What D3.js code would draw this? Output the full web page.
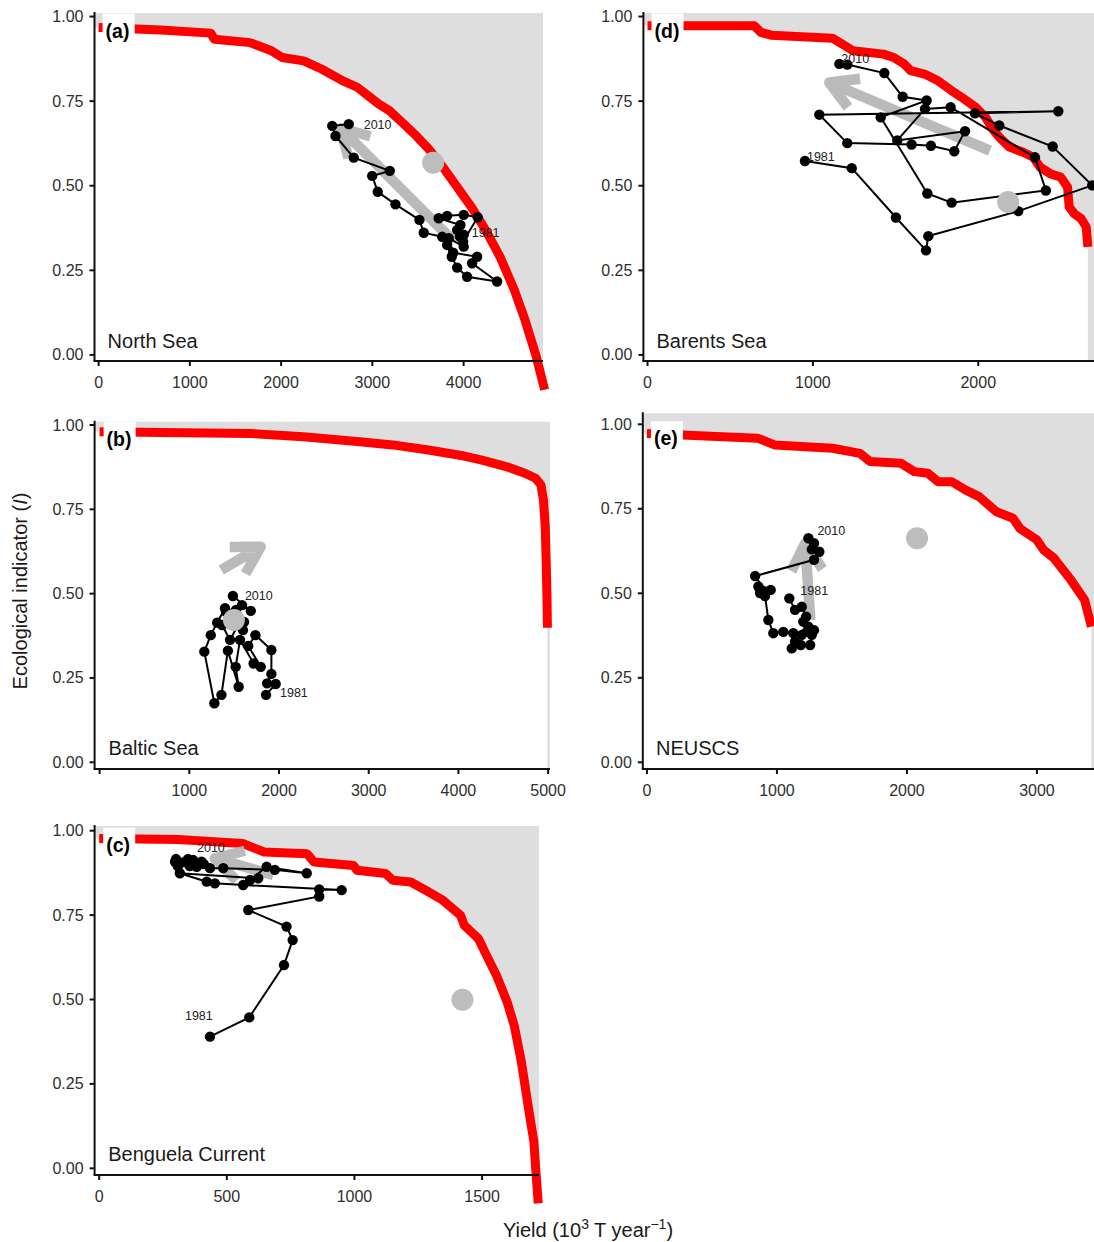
<!DOCTYPE html>
<html>
<head>
<meta charset="utf-8">
<script src="https://cdn.jsdelivr.net/npm/d3@7"></script>
<style>
  body { margin: 0; background: #fff; }
  svg { display: block; font-family: "Liberation Sans", Arial, sans-serif; }
</style>
</head>
<body>
<div id="app"></div>
<script>
// ---------- data (yield in 10^3 T/year, indicator I) ----------
const yearLabels = ['1981', '2010'];
const indicatorTicks = [0, 0.25, 0.5, 0.75, 1];

// North Sea (a)
const northSeaYield = [4001, 3960, 3995, 4154, 4001, 3819, 3727, 3965, 3929, 4001, 3837, 3885, 4148, 4093, 4367, 4038, 3929, 3870, 3819, 3765, 3563, 3516, 3253, 3059, 2998, 3191, 2796, 2596, 2560, 2741];
const northSeaIndicator = [0.355, 0.350, 0.335, 0.407, 0.414, 0.411, 0.404, 0.384, 0.369, 0.320, 0.345, 0.302, 0.290, 0.271, 0.217, 0.231, 0.258, 0.290, 0.325, 0.349, 0.361, 0.399, 0.445, 0.482, 0.529, 0.544, 0.583, 0.647, 0.677, 0.682];
const northSeaFrontierYield = [0, 681, 1229, 1268, 1659, 1894, 2012, 2247, 2442, 2677, 2834, 3068, 3186, 3342, 3460, 3616, 3773, 3930, 4086, 4243, 4399, 4556, 4673, 4791, 4888];
const northSeaFrontierIndicator = [0.968, 0.960, 0.951, 0.933, 0.923, 0.899, 0.879, 0.869, 0.845, 0.810, 0.791, 0.742, 0.722, 0.683, 0.653, 0.609, 0.555, 0.496, 0.437, 0.368, 0.290, 0.192, 0.103, 0.000, -0.103];
const northSeaArrow = [3892, 0.335, 2651, 0.670];
const northSeaReference = [3666, 0.568];
const northSeaTicks = [0, 1000, 2000, 3000, 4000];

// Barents Sea (d)
const barentsYield = [952, 1235, 1502, 1684, 1698, 2242, 2689, 2450, 2127, 1980, 2484, 1039, 1208, 1597, 1714, 1855, 1920, 1510, 1678, 1833, 2343, 2409, 1839, 1692, 1410, 1688, 1543, 1432, 1208, 1160];
const barentsIndicator = [0.573, 0.552, 0.406, 0.309, 0.351, 0.425, 0.501, 0.616, 0.678, 0.714, 0.720, 0.710, 0.626, 0.622, 0.618, 0.602, 0.661, 0.634, 0.727, 0.732, 0.584, 0.486, 0.450, 0.477, 0.702, 0.752, 0.763, 0.833, 0.858, 0.860];
const barentsFrontierYield = [0, 645, 686, 748, 1118, 1180, 1242, 1427, 1489, 1551, 1592, 1675, 1757, 1839, 1901, 1984, 2045, 2086, 2128, 2189, 2271, 2333, 2374, 2437, 2498, 2540, 2550, 2581, 2622, 2653, 2663];
const barentsFrontierIndicator = [0.973, 0.973, 0.953, 0.945, 0.936, 0.918, 0.899, 0.889, 0.879, 0.860, 0.840, 0.830, 0.810, 0.781, 0.761, 0.732, 0.702, 0.668, 0.643, 0.614, 0.599, 0.584, 0.555, 0.535, 0.526, 0.496, 0.437, 0.417, 0.403, 0.378, 0.319];
const barentsArrow = [2071, 0.604, 1099, 0.805];
const barentsReference = [2181, 0.452];
const barentsTicks = [0, 1000, 2000];

// Baltic Sea (b)
const balticYield = [1855, 1963, 1867, 1915, 1915, 1737, 1657, 1796, 1717, 1565, 1517, 1550, 1430, 1358, 1279, 1167, 1239, 1310, 1398, 1598, 1476, 1543, 1454, 1365, 1610, 1521, 1409, 1588, 1685, 1486];
const balticIndicator = [0.200, 0.232, 0.234, 0.262, 0.333, 0.377, 0.345, 0.283, 0.293, 0.363, 0.283, 0.224, 0.331, 0.200, 0.175, 0.328, 0.377, 0.414, 0.457, 0.392, 0.437, 0.407, 0.363, 0.407, 0.416, 0.452, 0.446, 0.466, 0.449, 0.493];
const balticFrontierYield = [0, 681, 1676, 2273, 2870, 3268, 3666, 4064, 4263, 4542, 4741, 4860, 4920, 4948, 4968, 4980, 4988, 4992];
const balticFrontierIndicator = [0.980, 0.978, 0.975, 0.965, 0.951, 0.941, 0.926, 0.908, 0.896, 0.876, 0.857, 0.842, 0.822, 0.778, 0.699, 0.580, 0.481, 0.399];
const balticArrow = [1356, 0.570, 1796, 0.639];
const balticReference = [1497, 0.422];
const balticTicks = [0, 1000, 2000, 3000, 4000, 5000];

// NEUSCS (e)
const neuscsYield = [1095, 1139, 1191, 1224, 1203, 1242, 1285, 1255, 1183, 1114, 1139, 1229, 1268, 1191, 1126, 1049, 972, 934, 908, 952, 891, 857, 870, 916, 832, 1285, 1326, 1268, 1285, 1242];
const neuscsIndicator = [0.485, 0.451, 0.460, 0.431, 0.416, 0.401, 0.391, 0.347, 0.347, 0.337, 0.357, 0.386, 0.377, 0.377, 0.382, 0.386, 0.382, 0.421, 0.492, 0.510, 0.508, 0.520, 0.501, 0.504, 0.551, 0.599, 0.623, 0.630, 0.648, 0.663];
const neuscsFrontierYield = [0, 851, 982, 1428, 1638, 1716, 1952, 2057, 2161, 2240, 2345, 2450, 2555, 2685, 2816, 2869, 3000, 3052, 3131, 3262, 3367, 3419];
const neuscsFrontierIndicator = [0.973, 0.959, 0.939, 0.929, 0.914, 0.890, 0.885, 0.860, 0.855, 0.830, 0.830, 0.806, 0.786, 0.742, 0.722, 0.692, 0.658, 0.628, 0.604, 0.539, 0.480, 0.401];
const neuscsArrow = [1257, 0.421, 1217, 0.648];
const neuscsReference = [2078, 0.663];
const neuscsTicks = [0, 1000, 2000, 3000];

// Benguela Current (c)
const benguelaYield = [434, 588, 724, 758, 734, 584, 862, 862, 950, 564, 453, 421, 316, 623, 591, 656, 813, 688, 486, 434, 382, 401, 368, 336, 297, 308, 355, 410, 348, 301];
const benguelaIndicator = [0.390, 0.447, 0.602, 0.676, 0.716, 0.765, 0.805, 0.826, 0.824, 0.839, 0.844, 0.849, 0.874, 0.859, 0.854, 0.893, 0.874, 0.884, 0.889, 0.889, 0.893, 0.908, 0.913, 0.908, 0.908, 0.895, 0.895, 0.901, 0.916, 0.916];
const benguelaFrontierYield = [0, 311, 562, 646, 814, 842, 996, 1010, 1122, 1150, 1220, 1290, 1346, 1416, 1430, 1486, 1514, 1556, 1598, 1626, 1654, 1682, 1703, 1710, 1720];
const benguelaFrontierIndicator = [0.977, 0.974, 0.962, 0.937, 0.932, 0.907, 0.897, 0.883, 0.873, 0.853, 0.848, 0.819, 0.794, 0.749, 0.720, 0.680, 0.636, 0.572, 0.493, 0.423, 0.315, 0.177, 0.079, 0.000, -0.104];
const benguelaArrow = [682, 0.869, 453, 0.918];
const benguelaReference = [1423, 0.499];
const benguelaTicks = [0, 500, 1000, 1500];

// ---------- layout ----------
const panels = [
  { tag: '(a)', name: 'North Sea', yv: northSeaYield, iv: northSeaIndicator, fy: northSeaFrontierYield, fi: northSeaFrontierIndicator,
    arrow: northSeaArrow, ref: northSeaReference, ticks: northSeaTicks, showZero: true,
    left: 94.5, right: 543, top: 13, bottom: 361, xDom: [-45, 4870], yDom: [-0.018, 1.0105],
    lab1981: [8, -1.5], lab2010: [15, 1] },
  { tag: '(d)', name: 'Barents Sea', yv: barentsYield, iv: barentsIndicator, fy: barentsFrontierYield, fi: barentsFrontierIndicator,
    arrow: barentsArrow, ref: barentsReference, ticks: barentsTicks, showZero: true,
    left: 643.4, right: 1094, top: 13, bottom: 361, xDom: [-25, 2700], yDom: [-0.018, 1.0105],
    lab1981: [2, -4], lab2010: [2, -5] },
  { tag: '(b)', name: 'Baltic Sea', yv: balticYield, iv: balticIndicator, fy: balticFrontierYield, fi: balticFrontierIndicator,
    arrow: balticArrow, ref: balticReference, ticks: balticTicks, showZero: false,
    left: 94.6, right: 550, top: 421.7, bottom: 769, xDom: [-56, 5021], yDom: [-0.0199, 1.0098],
    lab1981: [14, -2], lab2010: [12, 0] },
  { tag: '(e)', name: 'NEUSCS', yv: neuscsYield, iv: neuscsIndicator, fy: neuscsFrontierYield, fi: neuscsFrontierIndicator,
    arrow: neuscsArrow, ref: neuscsReference, ticks: neuscsTicks, showZero: true,
    left: 642.8, right: 1094, top: 413.3, bottom: 769, xDom: [-32, 3439], yDom: [-0.0198, 1.0325],
    lab1981: [11, -7], lab2010: [9, -7] },
  { tag: '(c)', name: 'Benguela Current', yv: benguelaYield, iv: benguelaIndicator, fy: benguelaFrontierYield, fi: benguelaFrontierIndicator,
    arrow: benguelaArrow, ref: benguelaReference, ticks: benguelaTicks, showZero: true,
    left: 94.6, right: 539, top: 826, bottom: 1175, xDom: [-18, 1723], yDom: [-0.0198, 1.0139],
    lab1981: [-25, -21], lab2010: [21, -11] }
];

const svg = d3.select('#app').append('svg')
  .attr('width', 1094)
  .attr('height', 1242);

panels.forEach((p, k) => {
  const x = d3.scaleLinear().domain(p.xDom).range([p.left, p.right]);
  const y = d3.scaleLinear().domain(p.yDom).range([p.bottom, p.top]);
  const g = svg.append('g');

  // clip for the shaded region
  g.append('clipPath').attr('id', 'clip' + k)
    .append('rect')
    .attr('x', p.left).attr('y', p.top)
    .attr('width', p.right - p.left).attr('height', p.bottom - p.top);

  // shaded (unattainable) region beyond the frontier
  const pts = p.fy.map((v, i) => [v, p.fi[i]]);
  const last = pts[pts.length - 1];
  const far = Math.max(p.xDom[1], last[0]) + 500;
  const poly = [[p.xDom[0] - 500, p.yDom[1] + 1], [p.xDom[0] - 500, pts[0][1]], ...pts,
    [last[0], p.yDom[0] - 1], [far, p.yDom[0] - 1], [far, p.yDom[1] + 1]];
  g.append('path')
    .attr('clip-path', 'url(#clip' + k + ')')
    .attr('d', d3.line().x(d => x(d[0])).y(d => y(d[1]))(poly) + 'Z')
    .attr('fill', '#dedede');

  // frontier
  g.append('path')
    .datum(pts)
    .attr('d', d3.line().x(d => x(d[0])).y(d => y(d[1])))
    .attr('fill', 'none')
    .attr('stroke', '#ff0000')
    .attr('stroke-width', 9)
    .attr('stroke-linejoin', 'round');

  // grey arrow
  const x1 = x(p.arrow[0]), y1 = y(p.arrow[1]), x2 = x(p.arrow[2]), y2 = y(p.arrow[3]);
  const ang = Math.atan2(y1 - y2, x1 - x2);
  const hl = 31, ha = Math.PI / 6;
  const w1 = [x2 + hl * Math.cos(ang + ha), y2 + hl * Math.sin(ang + ha)];
  const w2 = [x2 + hl * Math.cos(ang - ha), y2 + hl * Math.sin(ang - ha)];
  g.append('path')
    .attr('d', `M${x1},${y1}L${x2},${y2}M${w1[0]},${w1[1]}L${x2},${y2}L${w2[0]},${w2[1]}`)
    .attr('fill', 'none')
    .attr('stroke', '#b3b3b3')
    .attr('stroke-opacity', 0.9)
    .attr('stroke-width', 10.5)
    .attr('stroke-linejoin', 'round');

  // trajectory
  const traj = p.yv.map((v, i) => [v, p.iv[i]]);
  g.append('path')
    .datum(traj)
    .attr('d', d3.line().x(d => x(d[0])).y(d => y(d[1])))
    .attr('fill', 'none')
    .attr('stroke', '#000')
    .attr('stroke-width', 2);

  g.selectAll('circle.pt')
    .data(traj)
    .join('circle')
    .attr('class', 'pt')
    .attr('cx', d => x(d[0]))
    .attr('cy', d => y(d[1]))
    .attr('r', 5.2)
    .attr('fill', '#000');

  // reference point
  g.append('circle')
    .attr('cx', x(p.ref[0]))
    .attr('cy', y(p.ref[1]))
    .attr('r', 11)
    .attr('fill', '#bdbdbd');

  // year labels
  const first = traj[0], lastYear = traj[traj.length - 1];
  [[first, p.lab1981, yearLabels[0]], [lastYear, p.lab2010, yearLabels[1]]].forEach(([d, off, t]) => {
    g.append('text')
      .attr('x', x(d[0]) + off[0])
      .attr('y', y(d[1]) + off[1])
      .attr('dominant-baseline', 'central')
      .attr('font-size', 12.5)
      .attr('fill', '#222')
      .text(t);
  });

  // axes
  g.append('line')
    .attr('x1', p.left).attr('x2', p.left)
    .attr('y1', p.top - 1).attr('y2', p.bottom)
    .attr('stroke', '#111').attr('stroke-width', 2);
  g.append('line')
    .attr('x1', p.left - 1).attr('x2', p.right)
    .attr('y1', p.bottom).attr('y2', p.bottom)
    .attr('stroke', '#111').attr('stroke-width', 2);

  indicatorTicks.forEach(t => {
    g.append('line')
      .attr('x1', p.left - 5).attr('x2', p.left)
      .attr('y1', y(t)).attr('y2', y(t))
      .attr('stroke', '#111').attr('stroke-width', 2);
    g.append('text')
      .attr('x', p.left - 11)
      .attr('y', y(t))
      .attr('text-anchor', 'end')
      .attr('dominant-baseline', 'central')
      .attr('font-size', 16)
      .attr('fill', '#2e2e2e')
      .text(d3.format('.2f')(t));
  });

  p.ticks.forEach(t => {
    g.append('line')
      .attr('x1', x(t)).attr('x2', x(t))
      .attr('y1', p.bottom).attr('y2', p.bottom + 5)
      .attr('stroke', '#111').attr('stroke-width', 2);
    if (t !== 0 || p.showZero) {
      g.append('text')
        .attr('x', x(t))
        .attr('y', p.bottom + 27)
        .attr('text-anchor', 'middle')
        .attr('font-size', 16)
        .attr('fill', '#2e2e2e')
        .text(t);
    }
  });

  // panel tag box
  g.append('rect')
    .attr('x', x(0) + 4).attr('y', y(1) - 3)
    .attr('width', 32).attr('height', 29)
    .attr('fill', '#fff');
  g.append('text')
    .attr('x', x(0) + 7)
    .attr('y', y(1) + 21)
    .attr('font-size', 19.5)
    .attr('font-weight', 'bold')
    .attr('fill', '#000')
    .text(p.tag);

  // region name
  g.append('text')
    .attr('x', x(0) + 9)
    .attr('y', y(0) - 7)
    .attr('font-size', 20)
    .attr('fill', '#1a1a1a')
    .text(p.name);
});

// axis titles
const yTitle = svg.append('text')
  .attr('transform', 'translate(20,591) rotate(-90)')
  .attr('text-anchor', 'middle')
  .attr('dominant-baseline', 'central')
  .attr('font-size', 20)
  .attr('fill', '#1a1a1a');
yTitle.append('tspan').text('Ecological indicator (');
yTitle.append('tspan').attr('font-style', 'italic').text('I');
yTitle.append('tspan').text(')');

const xTitle = svg.append('text')
  .attr('x', 588)
  .attr('y', 1237)
  .attr('text-anchor', 'middle')
  .attr('font-size', 20)
  .attr('fill', '#1a1a1a');
xTitle.append('tspan').text('Yield (10');
xTitle.append('tspan').attr('font-size', 14).attr('dy', -8).text('3');
xTitle.append('tspan').attr('dy', 8).text(' T year');
xTitle.append('tspan').attr('font-size', 14).attr('dy', -8).text('\u22121');
xTitle.append('tspan').attr('dy', 8).text(')');
</script>
</body>
</html>
